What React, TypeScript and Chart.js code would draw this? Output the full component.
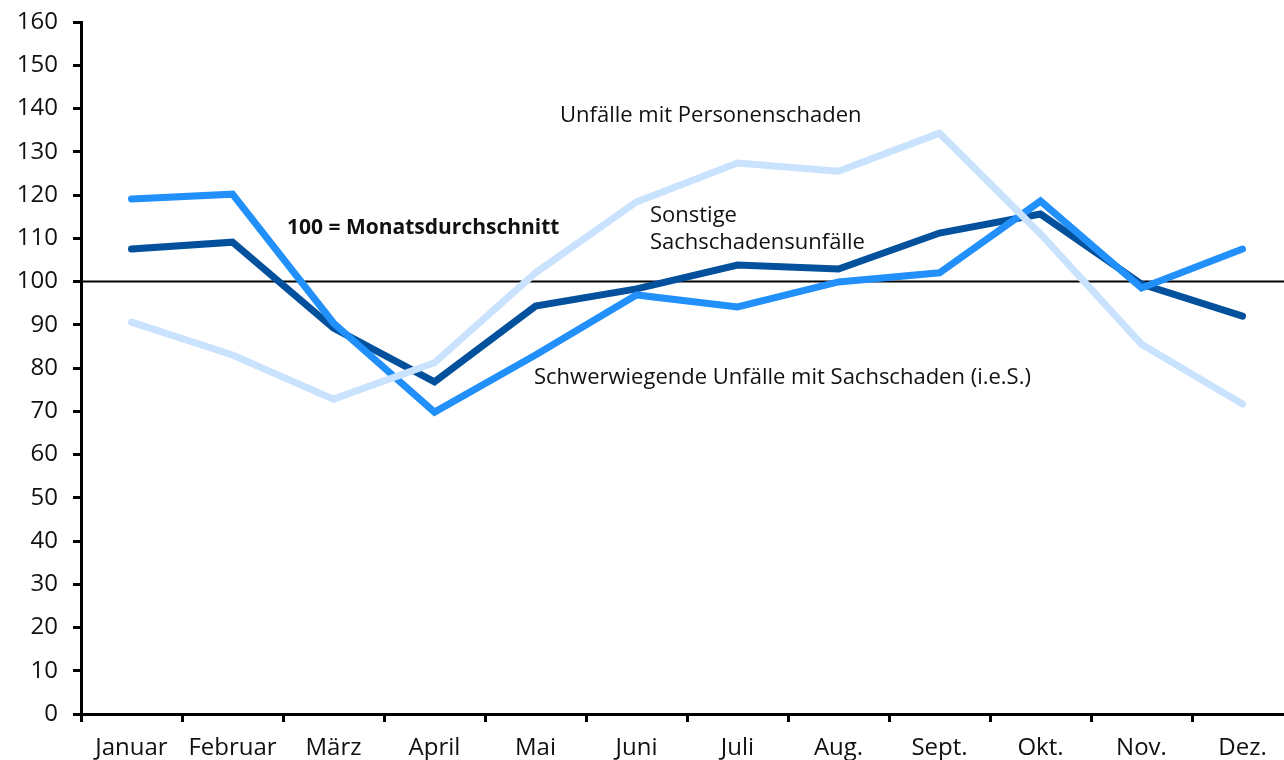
import React, { useEffect, useRef } from "react";
import { Chart, registerables } from "chart.js";

Chart.register(...registerables);

const months = ["Januar", "Februar", "März", "April", "Mai", "Juni", "Juli", "Aug.", "Sept.", "Okt.", "Nov.", "Dez."];
const personenschaden = [90.6, 83, 72.8, 81.2, 102, 118.4, 127.4, 125.5, 134.3, 111, 85.5, 71.7];
const schwerwiegend = [119.1, 120.2, 90.4, 69.8, 83, 96.9, 94.1, 99.9, 102, 118.6, 98.5, 107.5];
const sonstige = [107.5, 109.1, 89.2, 76.8, 94.3, 98.3, 103.8, 102.9, 111.2, 115.6, 99.4, 92];
const referenceValue = 100;

const FONT = "'Open Sans'";
const FONT_SIZE = 22;
const TICK_FONT_SIZE = 24;

const annotations = [
  { text: "Unfälle mit Personenschaden", x: 560, y: 116, bold: false },
  { text: "100 = Monatsdurchschnitt", x: 287, y: 228, bold: true },
  { text: "Sonstige", x: 650, y: 216, bold: false },
  { text: "Sachschadensunfälle", x: 650, y: 243, bold: false },
  { text: "Schwerwiegende Unfälle mit Sachschaden (i.e.S.)", x: 534, y: 378, bold: false },
];

const refLinePlugin = {
  id: "refLine",
  beforeDatasetsDraw(chart: any) {
    const { ctx, chartArea, scales } = chart;
    const y = scales.y.getPixelForValue(referenceValue);
    ctx.save();
    ctx.strokeStyle = "#000";
    ctx.lineWidth = 2;
    ctx.beginPath();
    ctx.moveTo(chartArea.left, y);
    ctx.lineTo(chart.width, y);
    ctx.stroke();
    ctx.restore();
  },
};

const textPlugin = {
  id: "texts",
  afterDatasetsDraw(chart: any) {
    const { ctx } = chart;
    ctx.save();
    ctx.fillStyle = "#111";
    ctx.textBaseline = "middle";
    ctx.textAlign = "left";
    for (const a of annotations) {
      ctx.font = `${a.bold ? "bold " : ""}${a.bold ? FONT_SIZE - 1 : FONT_SIZE}px ${FONT}`;
      ctx.fillText(a.text, a.x, a.y);
    }
    ctx.restore();
  },
};

export default function App() {
  const ref = useRef<HTMLCanvasElement | null>(null);
  useEffect(() => {
    document.body.style.margin = "0";
    const common = {
      borderWidth: 7,
      borderCapStyle: "round" as const,
      borderJoinStyle: "miter" as const,
      pointRadius: 0,
      tension: 0,
      fill: false,
    };
    const chart = new Chart(ref.current!, {
      type: "line",
      data: {
        labels: months,
        datasets: [
          { ...common, label: "Unfälle mit Personenschaden", data: personenschaden, borderColor: "#c9e2fd" },
          { ...common, label: "Schwerwiegende Unfälle mit Sachschaden (i.e.S.)", data: schwerwiegend, borderColor: "#2190fb" },
          { ...common, label: "Sonstige Sachschadensunfälle", data: sonstige, borderColor: "#03509c" },
        ],
      },
      options: {
        animation: false,
        responsive: false,
        layout: { padding: { left: 0, right: 0, top: 22, bottom: 0 }, autoPadding: false },
        plugins: { legend: { display: false }, tooltip: { enabled: false } },
        scales: {
          x: {
            type: "category",
            offset: true,
            afterFit: (s: any) => { s.height = 46; s.paddingLeft = 0; s.paddingRight = 0; },
            grid: { offset: true, drawOnChartArea: false, drawTicks: true, tickLength: 8, color: "#000", lineWidth: 3 },
            border: { display: true, color: "#000", width: 3 },
            ticks: { color: "#111", font: { family: FONT, size: TICK_FONT_SIZE }, padding: 12, maxRotation: 0, autoSkip: false },
          },
          y: {
            min: 0,
            max: 160,
            afterFit: (s: any) => { s.width = 81; s.paddingTop = 0; s.paddingBottom = 0; },
            grid: { drawOnChartArea: false, drawTicks: true, tickLength: 8, color: "#000", lineWidth: 3 },
            border: { display: true, color: "#000", width: 3 },
            ticks: { stepSize: 10, color: "#111", font: { family: FONT, size: TICK_FONT_SIZE }, padding: 15 },
          },
        },
      },
      plugins: [refLinePlugin, textPlugin],
    });
    return () => chart.destroy();
  }, []);
  return (
    <div style={{ width: 1284, height: 760, overflow: "hidden" }}>
      <canvas ref={ref} width={1293} height={760} style={{ display: "block" }} />
    </div>
  );
}
